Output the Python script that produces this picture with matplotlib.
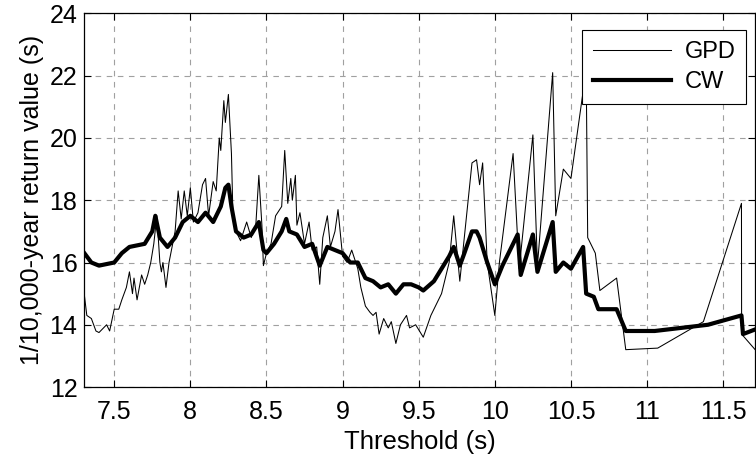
import matplotlib
matplotlib.use('Agg')
import matplotlib.pyplot as plt

# ── data ─────────────────────────────────────────────────────────────────────
gpd_x = [7.304, 7.32, 7.35, 7.38, 7.40, 7.43, 7.45, 7.47, 7.50, 7.53, 7.55, 7.58,
         7.60, 7.62, 7.63, 7.65, 7.68, 7.70, 7.72, 7.74, 7.76, 7.78, 7.80, 7.81,
         7.82, 7.84, 7.86, 7.88, 7.90, 7.92, 7.94, 7.96, 7.98, 8.00, 8.02, 8.05,
         8.08, 8.10, 8.12, 8.15, 8.17, 8.19, 8.20, 8.22, 8.23, 8.25, 8.27, 8.28,
         8.30, 8.33, 8.37, 8.40, 8.43, 8.45, 8.47, 8.48, 8.50, 8.53, 8.56, 8.60,
         8.62, 8.64, 8.66, 8.67, 8.69, 8.70, 8.72, 8.75, 8.78, 8.80, 8.83, 8.85,
         8.87, 8.90, 8.92, 8.95, 8.97, 9.00, 9.03, 9.06, 9.10, 9.12, 9.15, 9.18,
         9.20, 9.22, 9.24, 9.27, 9.30, 9.32, 9.35, 9.38, 9.42, 9.44, 9.48, 9.53,
         9.58, 9.65, 9.70, 9.73, 9.77, 9.85, 9.88, 9.90, 9.92, 9.95, 10.00, 10.03,
         10.12, 10.16, 10.25, 10.28, 10.38, 10.40, 10.45, 10.50, 10.60, 10.61,
         10.66, 10.69, 10.80, 10.86, 11.07, 11.37, 11.62, 11.621, 11.71]
gpd_y = [14.95, 14.3, 14.2, 13.8, 13.75, 13.9, 14.0, 13.8, 14.5, 14.5, 14.8, 15.2,
         15.7, 15.0, 15.5, 14.8, 15.6, 15.3, 15.6, 16.0, 16.6, 17.5, 16.0, 15.7,
         16.0, 15.2, 16.0, 16.5, 17.0, 18.3, 17.4, 18.3, 17.5, 18.4, 17.3, 17.6,
         18.5, 18.7, 17.5, 18.6, 18.3, 20.0, 19.6, 21.2, 20.5, 21.4, 19.5, 17.5,
         17.0, 16.7, 17.3, 16.8, 17.2, 18.8, 17.2, 15.9, 16.3, 16.6, 17.5, 17.8,
         19.6, 17.9, 18.7, 18.0, 18.8, 17.2, 17.6, 16.6, 17.3, 16.4, 16.5, 15.3,
         16.8, 17.5, 16.5, 17.0, 17.7, 16.2, 16.0, 16.4, 15.8, 15.2, 14.6, 14.4,
         14.3, 14.4, 13.7, 14.2, 13.9, 14.1, 13.4, 14.0, 14.3, 13.9, 14.0, 13.6,
         14.3, 15.0, 16.0, 17.5, 15.4, 19.2, 19.3, 18.5, 19.2, 16.0, 14.3, 16.0,
         19.5, 15.8, 20.1, 15.9, 22.1, 17.5, 19.0, 18.7, 22.2, 16.8,
         16.3, 15.1, 15.5, 13.2, 13.25, 14.1, 17.9, 13.7, 13.2]

cw_x = [7.304, 7.35, 7.40, 7.45, 7.50, 7.55, 7.60, 7.65, 7.70, 7.75, 7.77, 7.80,
        7.85, 7.90, 7.95, 8.00, 8.05, 8.10, 8.15, 8.20, 8.23, 8.25, 8.27, 8.30,
        8.35, 8.40, 8.45, 8.48, 8.50, 8.55, 8.60, 8.63, 8.65, 8.70, 8.75, 8.80,
        8.85, 8.90, 8.95, 9.00, 9.05, 9.10, 9.15, 9.20, 9.25, 9.30, 9.35, 9.40,
        9.45, 9.50, 9.53, 9.60, 9.65, 9.70, 9.73, 9.77, 9.80, 9.85, 9.88, 9.90,
        9.95, 10.00, 10.05, 10.10, 10.15, 10.17, 10.25, 10.28, 10.38, 10.40,
        10.45, 10.50, 10.58, 10.60, 10.65, 10.68, 10.80, 10.86, 11.05, 11.40,
        11.62, 11.63, 11.71]
cw_y = [16.3, 16.0, 15.9, 15.95, 16.0, 16.3, 16.5, 16.55, 16.6, 17.0, 17.5, 16.8,
        16.5, 16.8, 17.3, 17.5, 17.3, 17.6, 17.3, 17.8, 18.4, 18.5, 17.8, 17.0,
        16.8, 16.9, 17.3, 16.4, 16.3, 16.6, 17.0, 17.4, 17.0, 16.9, 16.5, 16.6,
        15.9, 16.5, 16.4, 16.3, 16.0, 16.0, 15.5, 15.4, 15.2, 15.3, 15.0, 15.3,
        15.3, 15.2, 15.1, 15.4, 15.8, 16.2, 16.5, 15.9, 16.3, 17.0, 17.0, 16.8,
        16.0, 15.3, 15.9, 16.4, 16.9, 15.6, 16.9, 15.7, 17.3, 15.7,
        16.0, 15.8, 16.5, 15.0, 14.9, 14.5, 14.5, 13.8, 13.8, 14.0,
        14.3, 13.7, 13.85]

x_ticks = [7.5, 8, 8.5, 9, 9.5, 10, 10.5, 11, 11.5]
x_labels = ['7.5', '8', '8.5', '9', '9.5', '10', '10.5', '11', '11.5']
y_ticks = [12, 14, 16, 18, 20, 22, 24]

# ── plot ─────────────────────────────────────────────────────────────────────
plt.rcParams['font.family'] = ['Liberation Sans', 'DejaVu Sans']

fig = plt.figure(figsize=(7.56, 4.62), dpi=100, facecolor='white')
ax = fig.add_axes([0.1116, 0.1623, 0.8877, 0.8085])

ax.plot(gpd_x, gpd_y, color='black', lw=0.75, label='GPD')
ax.plot(cw_x, cw_y, color='black', lw=3.0, label='CW')

ax.set_xlim(7.304, 11.712)
ax.set_ylim(12, 24)
ax.set_xticks(x_ticks)
ax.set_xticklabels(x_labels)
ax.set_yticks(y_ticks)

ax.grid(True, color='#a0a0a0', ls=(0, (5, 5)), lw=0.8)
ax.tick_params(direction='in', length=5, width=0.8, top=True, right=True,
               labelsize=18)
ax.tick_params(axis='x', pad=9)
ax.tick_params(axis='y', pad=5)
for sp in ax.spines.values():
    sp.set_linewidth(0.9)

ax.set_xlabel('Threshold (s)', fontsize=18.5, labelpad=5)
ax.set_ylabel('1/10,000-year return value (s)', fontsize=18, labelpad=4)

leg = ax.legend(loc='upper right', fontsize=17, fancybox=False,
                edgecolor='black', framealpha=1, borderpad=0.45,
                handlelength=3.3, handletextpad=0.6, labelspacing=0.35,
                borderaxespad=0, bbox_to_anchor=(0.9865, 0.955))
leg.get_frame().set_linewidth(0.8)

plt.savefig('out.png', dpi=100, facecolor='white')
plt.close()
